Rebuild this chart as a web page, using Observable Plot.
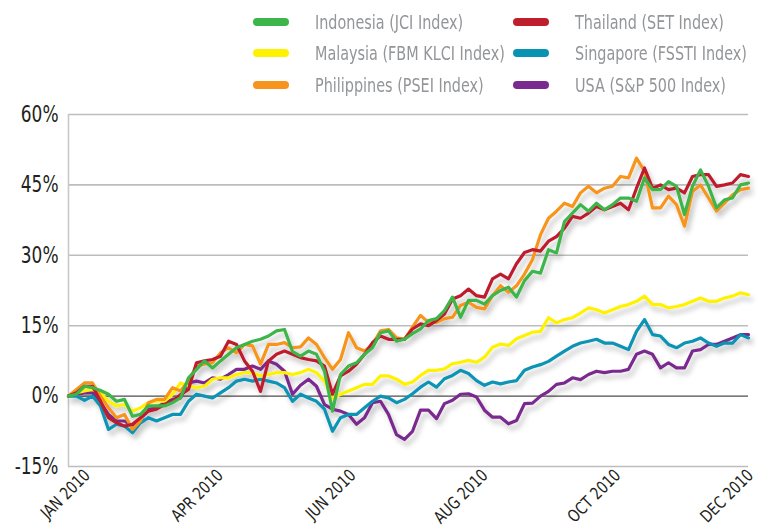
<!DOCTYPE html>
<html><head><meta charset="utf-8">
<script src="https://cdn.jsdelivr.net/npm/d3@7"></script>
<script src="https://cdn.jsdelivr.net/npm/@observablehq/plot@0.6"></script>
<style>
body{margin:0;background:#fff;font-family:"DejaVu Sans Condensed","DejaVu Sans",sans-serif;}
#legend{position:relative;height:100px;width:757px;}
.item{position:absolute;display:flex;align-items:center;color:#939598;font-size:20px;height:20px;white-space:nowrap;}
.sw{width:36px;height:8px;border-radius:4px;margin-right:26px;flex:none;}
.lt{display:inline-block;transform:scaleX(0.8);transform-origin:left center;}
#chart svg{display:block;}
</style></head><body>
<div id="legend"></div>
<div id="chart"></div>
<script>
const seriesNames = ["Indonesia (JCI Index)","Malaysia (FBM KLCI Index)","Philippines (PSEI Index)","Thailand (SET Index)","Singapore (FSSTI Index)","USA (S&P 500 Index)"];
const seriesColors = ["#3db54a","#fff200","#f7941d","#be1e2d","#0993b3","#7a2a8e"];
const xTickLabels = ["JAN 2010","APR 2010","JUN 2010","AUG 2010","OCT 2010","DEC 2010"];
const xTickPos = [1.6, 18.2, 34.8, 51.3, 67.9, 84.5];
const yTicks = [-15,0,15,30,45,60];

const indonesia = [0,0.4,2.1,1.8,1.2,0.4,-1.1,-0.7,-4.3,-3.9,-2.1,-2.1,-2.1,-1.4,-0.4,3.9,5.7,7.5,6.0,7.5,8.9,10.3,11.0,11.7,12.1,12.8,13.9,14.2,9.5,8.5,9.6,8.9,5.3,-3.2,4.6,6.4,7.1,8.9,10.3,13.5,13.9,11.7,12.1,13.3,14.3,16.1,16.5,18.2,21.1,16.8,20.4,20.4,19.6,21.4,22.5,23.2,21.1,24.6,26.6,26.2,31.2,30.5,37.2,39.0,40.8,39.4,41.1,39.7,40.8,42.2,42.2,41.5,46.5,44.0,44.0,45.7,44.7,38.7,44.7,48.2,44.7,40.1,41.8,42.2,45.0,45.4];
const malaysia = [0,0.7,1.1,1.4,0.7,-1.1,-2.1,-1.8,-3.2,-2.5,-1.4,-1.1,-1.1,0.4,2.8,2.1,1.8,2.1,3.6,3.9,3.9,4.6,5.0,5.0,4.3,4.6,5.0,5.0,4.6,5.0,5.7,5.0,3.2,-0.4,0.4,1.1,1.8,2.5,2.5,4.3,4.3,3.6,2.5,3.0,4.4,5.5,5.5,5.8,6.9,7.2,7.6,7.2,8.3,10.4,11.1,10.8,12.2,12.9,13.6,13.8,16.7,15.6,16.3,16.7,17.7,18.8,18.4,17.7,18.4,19.1,19.5,20.2,21.3,19.5,19.5,18.8,19.1,19.5,20.2,20.9,20.2,20.2,20.9,21.3,22.0,21.6];
const philippines = [0,1.4,2.8,2.8,0,-2.5,-4.6,-3.9,-7.1,-5.3,-1.4,-0.7,-0.7,1.8,1.1,3.2,6.4,6.8,7.1,9.2,10.3,9.2,11.0,10.7,6.8,11.0,11.0,11.4,10.3,10.5,12.4,11.0,8.2,5.7,7.8,13.5,10.3,9.6,11.0,13.9,14.2,12.4,12.1,14.7,17.2,15.7,15.7,16.5,16.8,19.3,20.0,18.9,18.6,21.4,23.5,22.1,23.5,26.0,29.1,34.4,37.9,39.4,41.1,40.4,43.3,44.7,43.3,44.3,44.7,46.8,46.5,50.7,47.9,40.1,40.1,42.6,40.8,36.2,43.6,45.0,42.2,39.4,41.1,42.9,44.0,44.3];
const thailand = [0,0.7,2.1,2.1,-1.1,-4.6,-5.7,-6.4,-6.0,-4.6,-3.2,-2.8,-1.8,-1.1,0.3,1.4,7.1,7.5,7.8,8.5,11.7,11.0,7.5,5.3,1.0,7.5,8.9,9.6,8.9,8.2,7.8,7.5,6.4,0.4,4.3,5.3,6.8,8.9,11.4,12.8,12.1,12.1,12.1,14.3,15.4,15.0,16.1,17.5,20.7,21.4,22.8,21.4,21.1,25.0,26.0,25.0,28.2,30.6,31.2,30.9,33.0,34.0,35.8,38.3,37.9,39.0,40.4,39.7,40.4,41.1,39.7,44.3,48.6,44.3,45.0,44.0,44.3,43.3,46.8,47.2,47.2,44.7,45.0,45.4,47.2,46.8];
const singapore = [0,0,-0.9,0,-2.1,-7.1,-6.0,-6.4,-7.8,-5.7,-4.6,-5.3,-4.6,-3.9,-3.9,-1.1,0.4,0,-0.4,0.7,1.8,3.2,3.6,3.2,3.6,3.2,2.8,1.8,-1.1,0.4,-0.4,-1.1,-2.8,-7.5,-4.6,-3.9,-3.9,-2.5,-1.1,0,-0.4,-1.4,-0.7,0.5,1.9,3.0,1.9,3.7,4.4,5.5,4.8,3.3,2.3,3.0,2.6,3.0,3.3,5.5,6.2,6.7,7.4,8.5,9.6,10.6,11.3,11.7,12.1,11.3,11.3,10.6,9.9,13.8,16.3,13.1,12.8,11.0,10.3,11.3,11.7,12.4,11.3,10.6,11.3,11.3,13.1,12.4];
const usa = [0,0.4,0.7,0.7,-1.4,-3.9,-5.3,-5.3,-6.4,-5.0,-2.8,-2.5,-1.4,-0.7,-0.4,2.8,3.2,2.8,3.9,3.6,4.6,5.7,5.7,6.4,5.7,7.5,6.8,5.3,0.4,2.3,3.6,2.1,-1.8,-2.8,-3.2,-3.9,-6.0,-4.6,-1.4,-1.1,-3.9,-8.2,-9.2,-7.5,-3.0,-3.0,-4.8,-1.6,-0.9,0.4,0.5,-0.2,-3.0,-4.5,-4.5,-5.9,-5.2,-1.6,-1.5,0,1.0,2.5,2.8,3.9,3.5,4.6,5.3,5.0,5.3,5.3,5.7,8.9,9.6,8.9,6.0,7.1,6.0,6.0,9.6,9.9,11.0,11.0,11.7,12.4,13.1,13.1];

const valuesByName = {
  "Indonesia (JCI Index)": indonesia,
  "Malaysia (FBM KLCI Index)": malaysia,
  "Philippines (PSEI Index)": philippines,
  "Thailand (SET Index)": thailand,
  "Singapore (FSSTI Index)": singapore,
  "USA (S&P 500 Index)": usa
};
// draw order (bottom to top)
const drawOrder = ["USA (S&P 500 Index)","Singapore (FSSTI Index)","Malaysia (FBM KLCI Index)","Philippines (PSEI Index)","Thailand (SET Index)","Indonesia (JCI Index)"];
const data = drawOrder.flatMap(name => valuesByName[name].map((v, i) => ({i, v, name})));
const n = indonesia.length;
const xLab = xTickLabels.map((t, k) => ({t, i: xTickPos[k]}));

// legend
const legend = document.getElementById("legend");
const legendLayout = [
  ["Indonesia (JCI Index)", 253, 12], ["Malaysia (FBM KLCI Index)", 253, 43], ["Philippines (PSEI Index)", 253, 75],
  ["Thailand (SET Index)", 513, 12], ["Singapore (FSSTI Index)", 513, 43], ["USA (S&P 500 Index)", 513, 75]
];
legendLayout.forEach(([name, x, y]) => {
  const d = document.createElement("div");
  d.className = "item";
  d.style.left = x + "px"; d.style.top = y + "px";
  const sw = document.createElement("span");
  sw.className = "sw";
  sw.style.background = seriesColors[seriesNames.indexOf(name)];
  const tx = document.createElement("span");
  tx.className = "lt";
  tx.textContent = name;
  d.appendChild(sw); d.appendChild(tx);
  legend.appendChild(d);
});

const chart = Plot.plot({
  width: 757, height: 427,
  marginTop: 14, marginBottom: 61, marginLeft: 68, marginRight: 9,
  style: {fontFamily: "'DejaVu Sans Condensed','DejaVu Sans',sans-serif", background: "#fff", overflow: "visible"},
  x: {domain: [0, n - 1], axis: null},
  y: {domain: [-15, 60], axis: null},
  color: {domain: seriesNames, range: seriesColors},
  marks: [
    Plot.ruleY(yTicks.filter(t => t !== 0), {stroke: "#bdbdbd", strokeWidth: 1.6}),
    Plot.ruleX([0], {stroke: "#c8c8c8", strokeWidth: 1.6}),
    Plot.ruleY([0], {stroke: "#231f20", strokeWidth: 1}),
    Plot.lineY(data, {x: "i", y: "v", z: "name", stroke: "name", strokeWidth: 3.2, strokeLinejoin: "round"}),
    Plot.text(yTicks, {x: 0, y: d => d, text: d => d + "%", textAnchor: "end", dx: -10, fontSize: 23, fill: "#231f20"}),
    Plot.text(xLab, {x: "i", y: -15, text: "t", rotate: -45, textAnchor: "end", dx: 6, dy: 6, fontSize: 17, fill: "#231f20"})
  ]
});
document.getElementById("chart").appendChild(chart);

const svg = d3.select(chart);
// condense the tick label glyphs (narrow typeface look)
function condense(sel, s) {
  sel.each(function() {
    const t = d3.select(this);
    const tr = t.attr("transform");
    if (tr) t.attr("transform", tr + ` scale(${s},1)`);
    else {
      const x = +t.attr("x") || 0, y = +t.attr("y") || 0;
      t.attr("x", null).attr("y", null).attr("transform", `translate(${x},${y}) scale(${s},1)`);
    }
  });
}
const textGroups = svg.selectAll('g[aria-label="text"]').nodes();
condense(d3.select(textGroups[0]).selectAll("text"), 0.82);
condense(d3.select(textGroups[1]).selectAll("text"), 0.88);

// soft drop shadow under the lines
const defs = svg.insert("defs", ":first-child");
const f = defs.append("filter").attr("id", "lineShadow").attr("x", "-10%").attr("y", "-10%").attr("width", "130%").attr("height", "140%");
f.append("feDropShadow").attr("dx", 3).attr("dy", 5).attr("stdDeviation", 2.5).attr("flood-color", "#000").attr("flood-opacity", 0.22);
svg.selectAll('g[aria-label="line"]').attr("filter", "url(#lineShadow)");
</script>
</body></html>
